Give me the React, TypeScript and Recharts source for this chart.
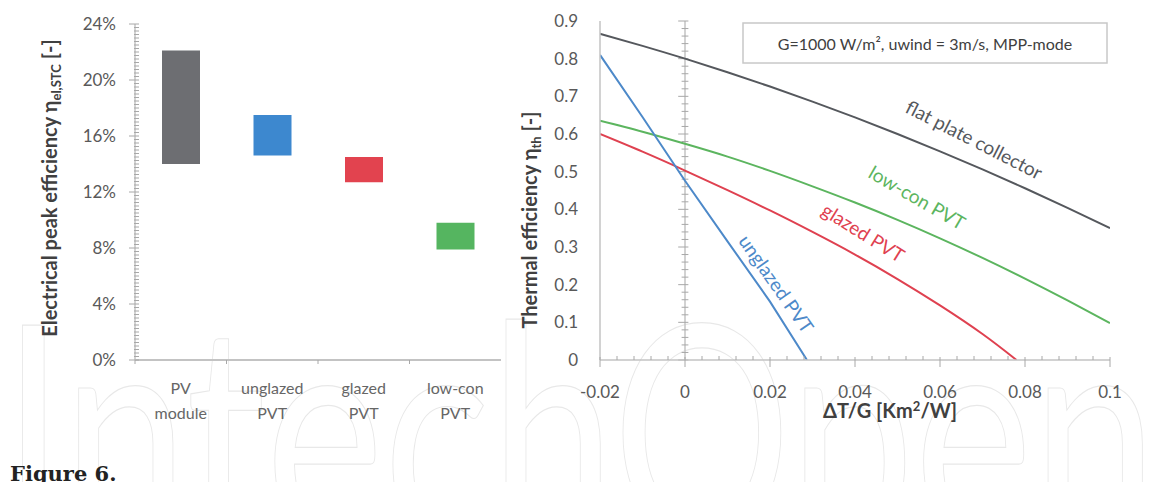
import { BarChart, Bar, Cell, LineChart, Line, XAxis, YAxis, ReferenceLine } from "recharts"

// left panel: electrical peak efficiency ranges (%)
const categories = ["PV module", "unglazed PVT", "glazed PVT", "low-con PVT"]
const categoryLines = [["PV", "module"], ["unglazed", "PVT"], ["glazed", "PVT"], ["low-con", "PVT"]]
const effLow = [14.0, 14.6, 12.7, 7.9]
const effHigh = [22.1, 17.5, 14.5, 9.8]
const barColors = ["#6d6e72", "#3d88cf", "#e2434f", "#55b560"]

// right panel: thermal efficiency vs dT/G
const xFlat = [-0.02, -0.01, 0, 0.01, 0.02, 0.03, 0.04, 0.05, 0.06, 0.07, 0.08, 0.09, 0.1]
const etaFlat = [0.866, 0.834, 0.8, 0.764, 0.726, 0.686, 0.644, 0.6, 0.554, 0.506, 0.456, 0.404, 0.35]
const xLowCon = [-0.02, -0.01, 0, 0.01, 0.02, 0.03, 0.04, 0.05, 0.06, 0.07, 0.08, 0.09, 0.1]
const etaLowCon = [0.635, 0.606, 0.574, 0.54, 0.502, 0.461, 0.418, 0.372, 0.323, 0.271, 0.216, 0.158, 0.098]
const xGlazed = [-0.02, -0.01, 0, 0.01, 0.02, 0.03, 0.04, 0.05, 0.06, 0.07, 0.078]
const etaGlazed = [0.6, 0.553, 0.503, 0.451, 0.397, 0.34, 0.28, 0.215, 0.145, 0.069, 0]
const xUnglazed = [-0.02, -0.01, 0, 0.01, 0.02, 0.0287]
const etaUnglazed = [0.81, 0.645, 0.476, 0.315, 0.155, 0]

const pctTicks = Array.from({ length: 97 }, (_, i) => i * 0.25)
const dtTicks = Array.from({ length: 31 }, (_, i) => Math.round((-0.02 + i * 0.004) * 1000) / 1000)
const etaTicks = [0, 0.1, 0.2, 0.3, 0.4, 0.5, 0.6, 0.7, 0.8, 0.9]
const zeroAxisTicks = Array.from({ length: 46 }, (_, i) => Math.round(i * 0.02 * 100) / 100)

const barData = categories.map((name, i) => ({ name, low: effLow[i], high: effHigh[i] }))
const zip = (xs: number[], ys: number[]) => xs.map((x, i) => ({ x, eta: ys[i] }))

const FONT = "Lato, 'Open Sans', sans-serif"
const AXIS = "#c3c3c3"
const TICK = "#a8a8a8"
const TXT = "#595959"

function PctTick(props: any) {
  const { x, y, payload } = props
  const v = payload.value
  const major = Math.abs(v / 4 - Math.round(v / 4)) < 1e-6
  return (
    <g>
      <line x1={major ? x - 6 : x - 1} x2={x + 4} y1={y} y2={y} stroke={TICK} />
      {major && (
        <text x={x - 19} y={y} dy="0.36em" textAnchor="end" fontSize={17} fill={TXT} fontFamily={FONT}>
          {`${Math.round(v)}%`}
        </text>
      )}
    </g>
  )
}

function CatTick(props: any) {
  const { x, y, payload } = props
  const idx = categories.indexOf(payload.value)
  const lines = categoryLines[idx] || [payload.value]
  return (
    <g>
      <line x1={x - 45.75} x2={x - 45.75} y1={y} y2={y + 4} stroke={TICK} />
      <text textAnchor="middle" fontSize={16} fill="#666" fontFamily={FONT}>
        <tspan x={x} y={y + 28} dy="0.35em">{lines[0]}</tspan>
        <tspan x={x} y={y + 53} dy="0.35em">{lines[1]}</tspan>
      </text>
    </g>
  )
}

function EtaTick(props: any) {
  const { x, y, payload } = props
  return (
    <text x={x - 22} y={y} dy="0.36em" textAnchor="end" fontSize={17} fill={TXT} fontFamily={FONT}>
      {String(Number(payload.value.toFixed(1)))}
    </text>
  )
}

function DtTick(props: any) {
  const { x, y, payload } = props
  const v = payload.value
  const major = Math.abs(v / 0.02 - Math.round(v / 0.02)) < 1e-6
  return (
    <g>
      {major ? (
        <line x1={x} x2={x} y1={y - 3} y2={y + 7} stroke={TICK} />
      ) : (
        <line x1={x} x2={x} y1={y - 4} y2={y} stroke={TICK} />
      )}
      {major && (
        <text x={x} y={y + 32} dy="0.35em" textAnchor="middle" fontSize={17} fill={TXT} fontFamily={FONT}>
          {String(Number(v.toFixed(2)))}
        </text>
      )}
    </g>
  )
}

export default function App() {
  return (
    <div style={{ position: "absolute", left: 0, top: 0, width: 1159, height: 482, background: "#fff", overflow: "hidden" }}>
      {/* faint publisher watermark */}
      <svg width={1159} height={482} style={{ position: "absolute", left: 0, top: 0 }}>
        <text x={2} y={540} fontSize={300} fontFamily="Lato, sans-serif" fontWeight={400} fill="none" stroke="#e8e8e8" strokeWidth={1.2} textLength={1155} lengthAdjust="spacingAndGlyphs">
          IntechOpen
        </text>
      </svg>

      <div style={{ position: "absolute", left: 0, top: 0 }}>
        <BarChart width={515} height={420} data={barData} margin={{ top: 24, right: 14, left: 0, bottom: 0 }}>
          <XAxis dataKey="name" height={60} tickSize={0} tickMargin={0} interval={0} tick={<CatTick />} axisLine={{ stroke: AXIS, strokeWidth: 2 }} />
          <XAxis xAxisId="top" dataKey="name" orientation="top" height={0} tick={false} tickLine={false} axisLine={{ stroke: AXIS, strokeWidth: 2 }} />
          <YAxis width={135} domain={[0, 24]} ticks={pctTicks} interval={0} tickSize={0} tickMargin={0} tick={<PctTick />} axisLine={{ stroke: AXIS, strokeWidth: 1.5 }} />
          <YAxis yAxisId="right" orientation="right" width={0} domain={[0, 24]} tick={false} tickLine={false} axisLine={{ stroke: AXIS, strokeWidth: 2 }} />
          <Bar dataKey={(d: any) => [d.low, d.high]} barSize={38} isAnimationActive={false}>
            {barData.map((d, i) => (
              <Cell key={d.name} fill={barColors[i]} />
            ))}
          </Bar>
        </BarChart>
      </div>

      <div style={{ position: "absolute", left: 510, top: 0 }}>
        <LineChart width={630} height={420} margin={{ top: 21, right: 30, left: 0, bottom: 0 }}>
          <XAxis type="number" dataKey="x" domain={[-0.02, 0.1]} ticks={dtTicks} interval={0} height={60} tickSize={0} tickMargin={0} tick={<DtTick />} axisLine={{ stroke: AXIS, strokeWidth: 1.5 }} allowDataOverflow />
          <XAxis xAxisId="top" type="number" dataKey="x" orientation="top" domain={[-0.02, 0.1]} height={0} tick={false} tickLine={false} axisLine={{ stroke: AXIS, strokeWidth: 2 }} />
          <YAxis width={90} domain={[0, 0.9]} ticks={etaTicks} interval={0} tickSize={0} tickMargin={0} tick={<EtaTick />} axisLine={{ stroke: AXIS, strokeWidth: 1.5 }} allowDataOverflow />
          <YAxis yAxisId="right" orientation="right" width={0} domain={[0, 0.9]} tick={false} tickLine={false} axisLine={{ stroke: AXIS, strokeWidth: 2 }} />
          <ReferenceLine x={0} stroke={AXIS} strokeWidth={1.5} />
          {zeroAxisTicks.map((v) => {
            const major = Math.abs(v * 10 - Math.round(v * 10)) < 1e-6
            return (
              <ReferenceLine
                key={v}
                segment={[{ x: major ? -0.0016 : -0.0008, y: v }, { x: 0.0008, y: v }]}
                stroke={TICK}
              />
            )
          })}
          <Line data={zip(xFlat, etaFlat)} dataKey="eta" type="natural" stroke="#55585d" strokeWidth={2} dot={false} isAnimationActive={false} />
          <Line data={zip(xLowCon, etaLowCon)} dataKey="eta" type="natural" stroke="#5cb55f" strokeWidth={2} dot={false} isAnimationActive={false} />
          <Line data={zip(xGlazed, etaGlazed)} dataKey="eta" type="natural" stroke="#df4150" strokeWidth={2} dot={false} isAnimationActive={false} />
          <Line data={zip(xUnglazed, etaUnglazed)} dataKey="eta" type="linear" stroke="#4d89c9" strokeWidth={2} dot={false} isAnimationActive={false} />
        </LineChart>
      </div>

      {/* axis titles, curve labels, note box, caption */}
      <svg width={1159} height={482} style={{ position: "absolute", left: 0, top: 0, pointerEvents: "none" }}>
        <text transform="translate(57,188) rotate(-90)" textAnchor="middle" fontSize={20} fontWeight={700} fill="#404040" fontFamily={FONT}>
          Electrical peak efficiency η<tspan fontSize={13} dy={4}>el,STC</tspan><tspan dy={-4}> [-]</tspan>
        </text>
        <text transform="translate(537,220) rotate(-90)" textAnchor="middle" fontSize={20} fontWeight={700} fill="#404040" fontFamily={FONT}>
          Thermal efficiency η<tspan fontSize={13} dy={4}>th</tspan><tspan dy={-4}> [-]</tspan>
        </text>
        <text x={890} y={418} textAnchor="middle" fontSize={20} fontWeight={700} fill="#404040" fontFamily={FONT}>
          ΔT/G [Km<tspan fontSize={13} dy={-7}>2</tspan><tspan dy={7}>/W]</tspan>
        </text>

        <rect x={743} y={23} width={364} height={40} fill="#fff" stroke="#c8c8c8" strokeWidth={1.5} />
        <text x={925} y={44} dy="0.35em" textAnchor="middle" fontSize={16} fill="#404040" fontFamily={FONT}>
          G=1000 W/m², uwind = 3m/s, MPP-mode
        </text>

        <text transform="translate(974,140) rotate(27)" textAnchor="middle" dy="0.35em" fontSize={19} fill="#55585d" fontFamily={FONT}>
          flat plate collector
        </text>
        <text transform="translate(917,198) rotate(30)" textAnchor="middle" dy="0.35em" fontSize={19} fill="#5cb55f" fontFamily={FONT}>
          low-con PVT
        </text>
        <text transform="translate(863,233) rotate(32)" textAnchor="middle" dy="0.35em" fontSize={19} fill="#df4150" fontFamily={FONT}>
          glazed PVT
        </text>
        <text transform="translate(776,284) rotate(55)" textAnchor="middle" dy="0.35em" fontSize={19} fill="#4d89c9" fontFamily={FONT}>
          unglazed PVT
        </text>

        <text x={10} y={481} fontSize={21} fontWeight={700} fill="#222" fontFamily="'DejaVu Serif', 'Liberation Serif', serif">
          Figure 6.
        </text>
      </svg>
    </div>
  )
}
